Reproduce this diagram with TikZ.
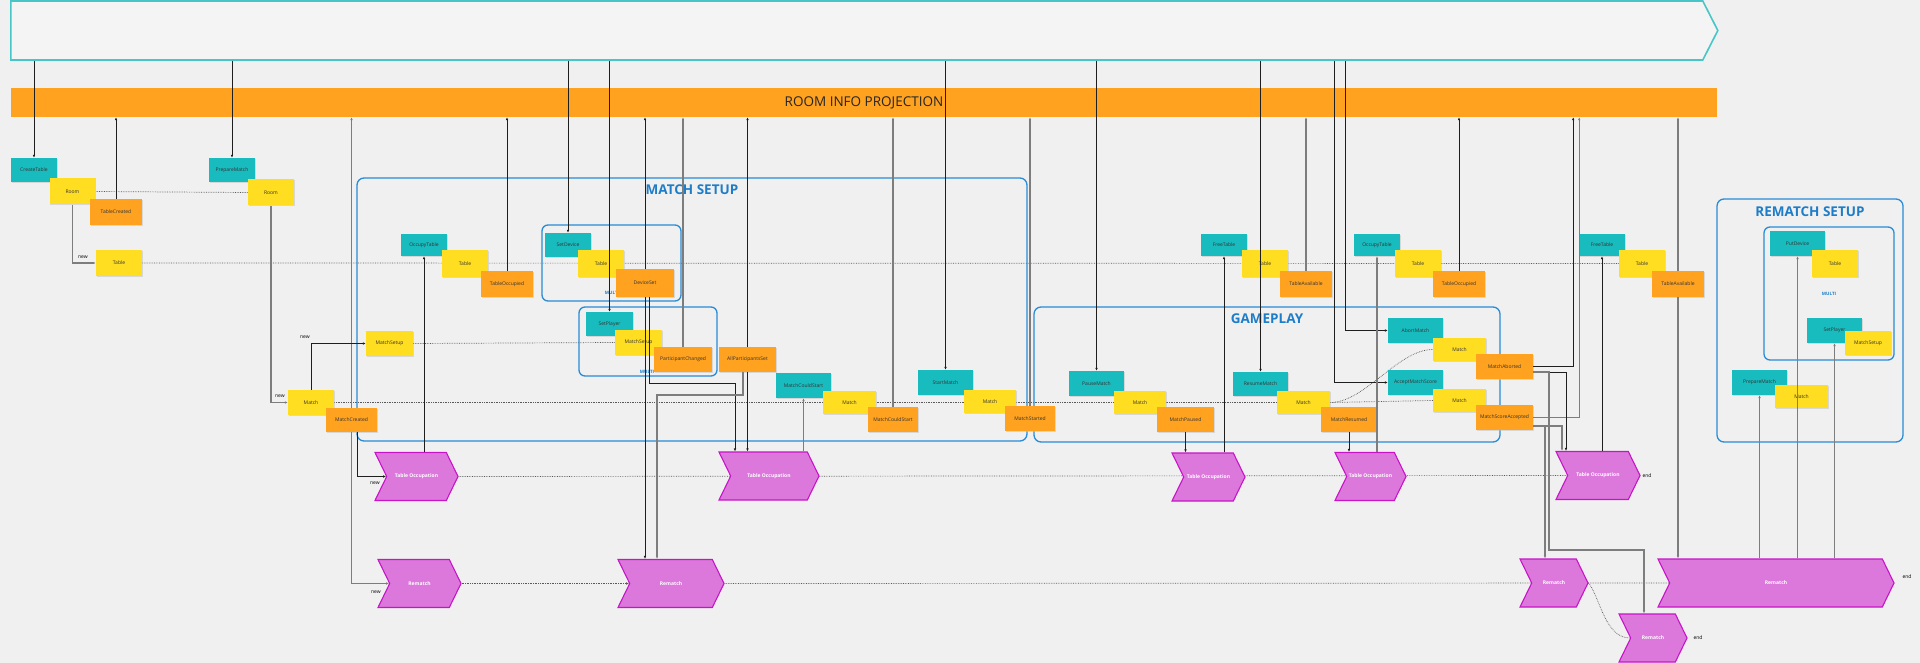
\documentclass[tikz,border=0pt]{standalone}
\usepackage{fontspec}
\setsansfont{Open Sans}
\usepackage{tikz}
\usetikzlibrary{arrows.meta,positioning,shapes.symbols,shadows,backgrounds}

\definecolor{bgcol}{RGB}{240,240,240}
\definecolor{cmdteal}{RGB}{25,188,190}
\definecolor{aggyellow}{RGB}{255,222,33}
\definecolor{evtorange}{RGB}{255,162,32}
\definecolor{chevfill}{RGB}{220,120,220}
\definecolor{chevline}{RGB}{200,20,200}
\definecolor{grpblue}{RGB}{40,140,215}
\definecolor{grptext}{RGB}{30,125,200}
\definecolor{procteal}{RGB}{70,198,198}
\definecolor{linkdark}{RGB}{30,30,30}
\definecolor{linkgrey}{RGB}{125,125,125}
\definecolor{notetext}{RGB}{50,50,50}

\newcommand\notefont{\sffamily\fontsize{5}{6}\selectfont}
\newcommand\chevfont{\sffamily\bfseries\fontsize{5}{6}\selectfont}
\newcommand\bandfont{\sffamily\fontsize{13.5}{15}\selectfont}
\newcommand\grptitlefont{\sffamily\bfseries\fontsize{13.5}{15}\selectfont}
\newcommand\multifont{\sffamily\bfseries\fontsize{4.5}{5}\selectfont}

\tikzset{
  note/.style={rectangle, inner sep=0pt, text=notetext, font=\notefont,
    drop shadow={shadow xshift=0.8pt, shadow yshift=-0.8pt, fill=black!25}},
  cmdbox/.style={note, fill=cmdteal, minimum width=46pt, minimum height=24pt},
  aggbox/.style={note, fill=aggyellow, minimum width=46pt, minimum height=26pt},
  evtbox/.style={note, fill=evtorange, minimum width=52pt, minimum height=26pt},
  chevron/.style={signal, signal to=east, signal from=west, signal pointer angle=128,
    fill=chevfill, draw=chevline, line width=1.1pt, inner sep=0pt,
    minimum height=48pt, text=white, font=\chevfont},
  procarrow/.style={signal, signal to=east, signal pointer angle=126, fill=bgcol!75!white,
    draw=procteal, line width=1.6pt, inner sep=0pt, minimum width=1707pt, minimum height=59pt},
  projband/.style={rectangle, fill=evtorange, inner sep=0pt, minimum width=1706pt,
    minimum height=29pt, font=\bandfont, text=black!85},
  groupbox/.style={draw=grpblue, line width=1.3pt, rounded corners=7pt},
  grouptitle/.style={font=\grptitlefont, text=grptext},
  multitag/.style={font=\multifont, text=grptext},
  sidetag/.style={font=\notefont, text=black},
  link/.style={draw=linkdark, line width=0.7pt, -{Latex[length=3pt,width=2.6pt]}},
  linkgray/.style={draw=linkgrey, line width=1.2pt, -{Latex[length=3pt,width=2.6pt]}},
  lifeline/.style={draw=black!65, line width=0.7pt, densely dotted}
}

\begin{document}
\begin{tikzpicture}[x=1pt,y=-1pt,font=\sffamily]
  \useasboundingbox (0,0) rectangle (1920,663);
  \begin{scope}[on background layer]
    \fill[bgcol] (0,0) rectangle (1920,663);
  \end{scope}

  % stream and projection
  \node[procarrow, anchor=west] (process) at (10,30.5) {};
  \node[projband] (roomInfo) at (864,102.5) {ROOM INFO PROJECTION};

  % phase boxes
  \draw[groupbox] (357,178) rectangle (1027,441);
  \node[grouptitle] (matchSetupTitle) at (692,190) {MATCH SETUP};
  \draw[groupbox] (1034,307) rectangle (1500,442);
  \node[grouptitle] (gameplayTitle) at (1267,319) {GAMEPLAY};
  \draw[groupbox] (1717,199) rectangle (1903,442);
  \node[grouptitle] (rematchSetupTitle) at (1810,212) {REMATCH SETUP};
  \draw[groupbox, rounded corners=6pt] (542,225) rectangle (681,301);
  \node[multitag] (multiDevice) at (612,293) {MULTI};
  \draw[groupbox, rounded corners=6pt] (579,307) rectangle (717,376);
  \node[multitag] (multiPlayer) at (647,372) {MULTI};
  \draw[groupbox, rounded corners=6pt] (1764,227) rectangle (1894,360);
  \node[multitag] (multiRematch) at (1829,294) {MULTI};

  % room
  \node[cmdbox] (createTable) at (34,170) {CreateTable};
  \node[aggbox] (room1) at (72.5,191.5) {Room};
  \node[evtbox] (tableCreated) at (116,212) {TableCreated};
  \node[cmdbox] (prepareMatch) at (232,170) {PrepareMatch};
  \node[aggbox] (room2) at (271,192.5) {Room};
  \node[aggbox] (table1) at (119,263) {Table};

  % match setup
  \node[aggbox, minimum width=47pt, minimum height=25pt] (matchSetup1) at (389.5,343.5) {MatchSetup};
  \node[aggbox, minimum height=25pt] (match1) at (311,402.5) {Match};
  \node[evtbox, minimum width=51pt, minimum height=24pt] (matchCreated) at (351.5,420) {MatchCreated};
  \node[cmdbox, minimum height=22pt] (occupyTable1) at (424,245) {OccupyTable};
  \node[aggbox, minimum height=27pt] (table2) at (465,263.5) {Table};
  \node[evtbox] (tableOccupied1) at (507,284) {TableOccupied};
  \node[cmdbox] (setDevice) at (568,245) {SetDevice};
  \node[aggbox, minimum height=27pt] (table3) at (601,263.5) {Table};
  \node[evtbox, minimum width=58pt, minimum height=28pt] (deviceSet) at (645,283) {DeviceSet};
  \node[cmdbox, minimum width=47pt] (setPlayer) at (609.5,324) {SetPlayer};
  \node[aggbox, minimum width=47pt, minimum height=25pt] (matchSetup2) at (638.5,342.5) {MatchSetup};
  \node[evtbox, minimum width=58pt, minimum height=25pt] (participantChanged) at (683,359.5) {ParticipantChanged};
  \node[evtbox, minimum width=57pt, minimum height=25pt] (allParticipantsSet) at (747.5,359.5) {AllParticipantsSet};
  \node[cmdbox, minimum width=55pt, minimum height=25pt] (matchCouldStartC) at (803.5,385.5) {MatchCouldStart};
  \node[aggbox, minimum width=53pt, minimum height=23pt] (match2) at (849.5,402.5) {Match};
  \node[evtbox, minimum width=50pt, minimum height=25pt] (matchCouldStartE) at (893,419.5) {MatchCouldStart};
  \node[cmdbox, minimum width=55pt, minimum height=25pt] (startMatch) at (945.5,382.5) {StartMatch};
  \node[aggbox, minimum width=52pt, minimum height=23pt] (match3) at (990,401.5) {Match};
  \node[evtbox, minimum width=50pt, minimum height=25pt] (matchStarted) at (1030,418.5) {MatchStarted};

  % gameplay
  \node[cmdbox, minimum width=55pt, minimum height=25pt] (pauseMatch) at (1096.5,383.5) {PauseMatch};
  \node[aggbox, minimum width=52pt, minimum height=23pt] (match4) at (1140,402.5) {Match};
  \node[evtbox, minimum width=57pt, minimum height=25pt] (matchPaused) at (1185.5,419.5) {MatchPaused};
  \node[cmdbox, minimum height=22pt] (freeTable1) at (1224,245) {FreeTable};
  \node[aggbox, minimum height=27pt] (table4) at (1265,263.5) {Table};
  \node[evtbox] (tableAvailable1) at (1306,284) {TableAvailable};
  \node[cmdbox, minimum height=22pt] (occupyTable2) at (1377,245) {OccupyTable};
  \node[aggbox, minimum height=27pt] (table5) at (1418,263.5) {Table};
  \node[evtbox] (tableOccupied2) at (1459,284) {TableOccupied};
  \node[cmdbox, minimum width=55pt] (resumeMatch) at (1260.5,384) {ResumeMatch};
  \node[aggbox, minimum width=53pt, minimum height=23pt] (match5) at (1303.5,402.5) {Match};
  \node[evtbox, minimum width=56pt, minimum height=25pt] (matchResumed) at (1349,419.5) {MatchResumed};
  \node[cmdbox, minimum width=55pt, minimum height=25pt] (abortMatch) at (1415.5,330.5) {AbortMatch};
  \node[aggbox, minimum width=53pt, minimum height=23pt] (match6) at (1459.5,349.5) {Match};
  \node[evtbox, minimum width=57pt, minimum height=25pt] (matchAborted) at (1504.5,366.5) {MatchAborted};
  \node[cmdbox, minimum width=55pt, minimum height=25pt] (acceptMatchScore) at (1415.5,382.5) {AcceptMatchScore};
  \node[aggbox, minimum width=53pt, minimum height=23pt] (match7) at (1459.5,400.5) {Match};
  \node[evtbox, minimum width=57pt, minimum height=25pt] (matchScoreAccepted) at (1504.5,417.5) {MatchScoreAccepted};

  % rematch setup
  \node[cmdbox, minimum height=22pt] (freeTable2) at (1602,245) {FreeTable};
  \node[aggbox, minimum height=27pt] (table6) at (1642,263.5) {Table};
  \node[evtbox] (tableAvailable2) at (1678,284) {TableAvailable};
  \node[cmdbox, minimum width=55pt, minimum height=25pt] (putDevice) at (1797.5,243.5) {PutDevice};
  \node[aggbox, minimum height=27pt] (table7) at (1835,263.5) {Table};
  \node[cmdbox, minimum width=55pt, minimum height=25pt] (setPlayer2) at (1834.5,330.5) {SetPlayer};
  \node[aggbox, minimum height=24pt] (matchSetup3) at (1868,343) {MatchSetup};
  \node[cmdbox, minimum width=55pt, minimum height=25pt] (prepareMatch2) at (1759.5,382.5) {PrepareMatch};
  \node[aggbox, minimum width=53pt, minimum height=23pt] (match8) at (1801.5,396.5) {Match};

  % process managers
  \node[chevron, minimum width=83pt] (occ1) at (416.5,476.5) {Table Occupation};
  \node[chevron, minimum width=100pt] (occ2) at (769,476) {Table Occupation};
  \node[chevron, minimum width=73pt] (occ3) at (1208.5,477) {Table Occupation};
  \node[chevron, minimum width=71pt] (occ4) at (1370.5,476.5) {Table Occupation};
  \node[chevron, minimum width=84pt] (occ5) at (1598,475.5) {Table Occupation};
  \node[chevron, minimum width=83pt] (rem1) at (419.5,583.5) {Rematch};
  \node[chevron, minimum width=106pt] (rem2) at (671,583.5) {Rematch};
  \node[chevron, minimum width=68pt] (rem3) at (1554,583) {Rematch};
  \node[chevron, minimum width=68pt] (rem4) at (1653,638) {Rematch};
  \node[chevron, minimum width=236pt] (rem5) at (1776,583) {Rematch};

  \node[sidetag] (newTable) at (83,257) {new};
  \node[sidetag] (newMatch) at (280,396) {new};
  \node[sidetag] (newSetup) at (305,337) {new};
  \node[sidetag] (newOccupation) at (375,483) {new};
  \node[sidetag] (newRematch) at (376,592) {new};
  \node[sidetag] (endOccupation) at (1647,476) {end};
  \node[sidetag] (endRematchA) at (1698,638) {end};
  \node[sidetag] (endRematchB) at (1907,577) {end};

  % bends
  \coordinate (abortDrop) at ([xshift=-42pt]abortMatch.west);
  \coordinate (acceptDrop) at ([xshift=-53pt]acceptMatchScore.west);
  \coordinate (abortedRise) at ([xshift=40pt]matchAborted.east);
  \coordinate (acceptedRise) at ([xshift=46pt]matchScoreAccepted.east);
  \coordinate (deviceKnee) at (735,383);
  \coordinate (allKnee) at (657,395);
  \coordinate (abortKnee) at (1549,550);

  % commands from the stream
  \foreach \cmd in {createTable,prepareMatch,setDevice,setPlayer,startMatch,pauseMatch,resumeMatch}
    \draw[link] (process.south -| \cmd) -- (\cmd.north);
  \draw[link] (abortDrop |- process.south) |- (abortMatch.west);
  \draw[link] (acceptDrop |- process.south) |- (acceptMatchScore.west);

  % events into the projection
  \foreach \evt in {tableCreated,tableOccupied1,deviceSet,allParticipantsSet,tableOccupied2}
    \draw[link] (\evt.north) -- (\evt.north |- roomInfo.south);
  \foreach \evt in {matchCreated,participantChanged,matchCouldStartE,matchStarted,tableAvailable1,tableAvailable2}
    \draw[linkgray] (\evt.north) -- (\evt.north |- roomInfo.south);
  \draw[link] (matchAborted.east) -| (abortedRise |- roomInfo.south);
  \draw[linkgray] (matchScoreAccepted.east) -| (acceptedRise |- roomInfo.south);

  % new aggregates
  \draw[linkgray] (room1.south) |- (table1.west);
  \draw[linkgray] (room2.south) |- (match1.west);
  \draw[link] (match1.north) |- (matchSetup1.west);
  \draw[link] ([xshift=5.5pt]matchCreated.south) |- (occ1.west);
  \draw[linkgray] (matchCreated.south) |- (rem1.west);

  % process managers
  \draw[link] (occupyTable1.south |- occ1.north) -- (occupyTable1.south);
  \draw[link] ([xshift=4pt]deviceSet.south) |- (deviceKnee) -- (deviceKnee |- occ2.north);
  \draw[link] (allParticipantsSet.south) -- (allParticipantsSet.south |- occ2.north);
  \draw[link] (deviceSet.south) -- (deviceSet.south |- rem2.north);
  \draw[linkgray] ([xshift=-4.5pt]allParticipantsSet.south) |- (allKnee) -- (allKnee |- rem2.north);
  \draw[linkgray] (matchCouldStartC.south |- occ2.north) -- (matchCouldStartC.south);
  \draw[link] (matchPaused.south) -- (matchPaused.south |- occ3.north);
  \draw[link] (freeTable1.south |- occ3.north) -- (freeTable1.south);
  \draw[link] (matchResumed.south) -- (matchResumed.south |- occ4.north);
  \draw[linkgray] (occupyTable2.south |- occ4.north) -- (occupyTable2.south);
  \draw[link] ([yshift=-5.5pt]matchAborted.east) -| ([xshift=-32pt]occ5.north);
  \draw[linkgray] ([yshift=-8.5pt]matchScoreAccepted.east) -| ([xshift=-36pt]occ5.north);
  \draw[linkgray] ([yshift=-8.5pt]matchScoreAccepted.east) -| ([xshift=-9pt]rem3.north);
  \draw[linkgray] ([yshift=-5.5pt]matchAborted.east) -| (abortKnee) -| ([xshift=-9pt]rem4.north);
  \draw[link] (freeTable2.south |- occ5.north) -- (freeTable2.south);
  \draw[linkgray] (tableAvailable2.south) -- (tableAvailable2.south |- rem5.north);
  \foreach \cmd in {prepareMatch2,putDevice,setPlayer2}
    \draw[linkgray] (\cmd.south |- rem5.north) -- (\cmd.south);

  % lifelines
  \begin{scope}[on background layer]
    \draw[lifeline] (room1.east) -- (room2.west);
    \draw[lifeline] (table1.east) -- (table6.west);
    \draw[lifeline] (matchSetup1.east) -- (matchSetup2.west);
    \draw[lifeline] (match1.east) -- (match5.west);
    \draw[lifeline] (match5.east) -- (match7.west);
    \draw[lifeline] (match5.east) .. controls +(35,0) and +(-35,0) .. (match6.west);
    \draw[lifeline] (occ1.east) -- (occ5.west);
    \draw[lifeline, -{Latex[length=3pt,width=2.6pt]}] (rem1.east) -- (rem2.west);
    \draw[lifeline] (rem2.east) -- (rem5.west);
    \draw[lifeline] (rem3.east) .. controls +(12,16) and +(-25,0) .. (rem4.west);
  \end{scope}
\end{tikzpicture}
\end{document}
